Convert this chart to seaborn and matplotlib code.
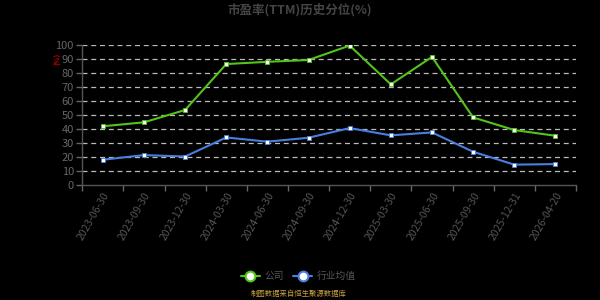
import matplotlib
matplotlib.use("Agg")
import matplotlib.pyplot as plt
import seaborn as sns
import pandas as pd
from matplotlib.lines import Line2D

dates = ["2023-06-30", "2023-09-30", "2023-12-30", "2024-03-30", "2024-06-30", "2024-09-30",
         "2024-12-30", "2025-03-30", "2025-06-30", "2025-09-30", "2025-12-31", "2026-04-20"]
company = [42.0, 44.8, 53.6, 86.4, 88.0, 89.3, 99.6, 71.9, 91.5, 48.3, 39.3, 35.2]
industry = [18.1, 21.4, 20.4, 34.0, 31.0, 33.8, 40.7, 35.5, 37.6, 23.8, 14.6, 15.0]
series_names = ["公司", "行业均值"]
yticks = list(range(0, 101, 10))

sns.set_theme(style="dark")
plt.rcParams['font.family'] = ['Noto Sans CJK SC', 'DejaVu Sans']

df = pd.DataFrame({
    "idx": list(range(len(dates))) * 2,
    "value": company + industry,
    "series": [series_names[0]] * len(dates) + [series_names[1]] * len(dates),
})

green = "#52c41a"
blue = "#4a7fe0"
palette = {series_names[0]: green, series_names[1]: blue}

fig = plt.figure(figsize=(6, 3), dpi=100, facecolor="black")
ax = fig.add_axes([0.137, 0.383, 0.823, 0.467])
ax.set_facecolor("black")

sns.lineplot(data=df, x="idx", y="value", hue="series", palette=palette, ax=ax,
             marker="s", markersize=3, markerfacecolor="white", markeredgewidth=0.6,
             linewidth=1.5, legend=False)
for l in ax.lines:
    l.set_markeredgecolor(l.get_color())

ax.set_xlim(-0.5, len(dates) - 0.5)
ax.set_ylim(0, 100)
ax.set_yticks(yticks)
ax.set_yticklabels([str(t) for t in yticks], color="#666666", fontsize=8)
ax.set_xticks(range(len(dates)))
ax.set_xticklabels(dates, rotation=60, ha="right", rotation_mode="anchor", color="#555555", fontsize=7.5)
ax.set_xticks([i - 0.5 for i in range(len(dates) + 1)], minor=True)
ax.tick_params(axis="x", which="major", length=0, pad=4)
ax.tick_params(axis="x", which="minor", length=4, color="#666666", width=1, bottom=True)
ax.tick_params(axis="y", length=4, color="#666666", width=1, left=True, pad=2)
ax.set_xlabel("")
ax.set_ylabel("")
ax.grid(False)
for y in yticks[1:]:
    ax.axhline(y, color="#bbbbbb", linestyle=(0, (4, 3)), linewidth=0.9, zorder=0)

for side in ["top", "right"]:
    ax.spines[side].set_visible(False)
for side in ["left", "bottom"]:
    ax.spines[side].set_visible(True)
    ax.spines[side].set_color("#555555")
    ax.spines[side].set_linewidth(1)

fig.text(0.5, 0.967, "市盈率(TTM)历史分位(%)", ha="center", va="center", color="#444444",
         fontsize=9, fontweight="bold")
fig.text(0.097, 0.805, "(%)", ha="center", va="center", color="#cc0000", fontsize=5,
         rotation=90, fontweight="bold")

handles = [Line2D([0], [0], color=green, lw=1.5, marker="o", markersize=7,
                  markerfacecolor="white", markeredgecolor=green, markeredgewidth=1.5),
           Line2D([0], [0], color=blue, lw=1.5, marker="o", markersize=7,
                  markerfacecolor="white", markeredgecolor=blue, markeredgewidth=1.5)]
leg = fig.legend(handles, series_names, loc="center", bbox_to_anchor=(0.497, 0.08), ncol=2,
                 frameon=False, fontsize=7, handlelength=2.0, columnspacing=0.9, handletextpad=0.45)
for t in leg.get_texts():
    t.set_color("#555555")

fig.text(0.497, 0.02, "制图数据来自恒生聚源数据库", ha="center", va="center", color="#c8a040", fontsize=5.3)

fig.savefig("out.png", dpi=100, facecolor="black")
